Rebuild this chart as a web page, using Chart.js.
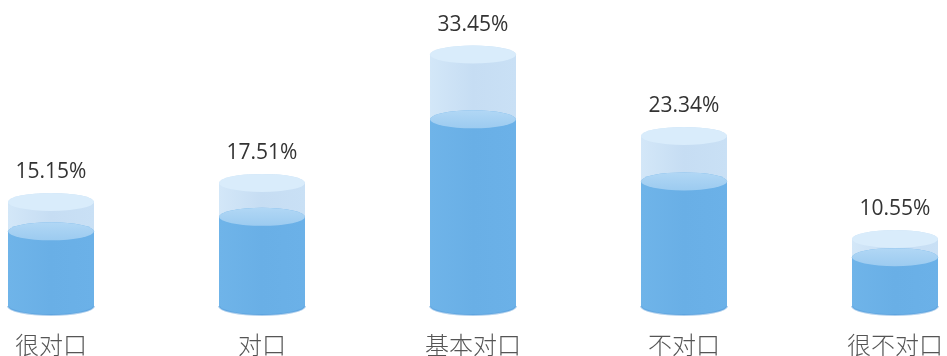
<!DOCTYPE html>
<html>
<head>
<meta charset="utf-8">
<script src="https://cdn.jsdelivr.net/npm/chart.js@4/dist/chart.umd.min.js"></script>
<style>
  html, body { margin: 0; padding: 0; background: #fff; }
  #wrap { width: 947px; height: 356px; }
</style>
</head>
<body>
<div id="wrap"><canvas id="c" width="947" height="356"></canvas></div>
<script>
const categories = ['很对口', '对口', '基本对口', '不对口', '很不对口'];
const percentValues = [15.15, 17.51, 33.45, 23.34, 10.55];
const fillValues = [11.5, 13.3, 25.4, 17.7, 8.3];
const valueLabels = ['15.15%', '17.51%', '33.45%', '23.34%', '10.55%'];

const RY = 9;

function cylinderPath(ctx, cx, rx, topY, baseY) {
  const t = topY + RY, b = baseY - RY;
  ctx.beginPath();
  ctx.moveTo(cx - rx, t);
  ctx.lineTo(cx - rx, b);
  ctx.ellipse(cx, b, rx, RY, 0, Math.PI, 0, true);
  ctx.lineTo(cx + rx, t);
  ctx.ellipse(cx, t, rx, RY, 0, 0, Math.PI, true);
  ctx.closePath();
}

const cylinderPlugin = {
  id: 'cylinders',
  afterDatasetsDraw(chart) {
    const ctx = chart.ctx;
    const outer = chart.getDatasetMeta(0).data;
    const inner = chart.getDatasetMeta(1).data;
    ctx.save();
    outer.forEach((el, i) => {
      const cx = el.x, rx = el.width / 2, base = el.base;
      cylinderPath(ctx, cx, rx, el.y, base);
      let g = ctx.createLinearGradient(cx - rx, 0, cx + rx, 0);
      g.addColorStop(0, '#d3e7f8');
      g.addColorStop(0.5, '#c6ddf3');
      g.addColorStop(1, '#c9e0f5');
      ctx.fillStyle = g;
      ctx.fill();
      ctx.beginPath();
      ctx.ellipse(cx, el.y + RY, rx, RY, 0, 0, Math.PI * 2);
      ctx.fillStyle = '#d9ecfb';
      ctx.fill();
      const ie = inner[i];
      cylinderPath(ctx, cx, rx, ie.y, base);
      g = ctx.createLinearGradient(cx - rx, 0, cx + rx, 0);
      g.addColorStop(0, '#6fb4e9');
      g.addColorStop(0.5, '#69afe6');
      g.addColorStop(1, '#6bb1e8');
      ctx.fillStyle = g;
      ctx.fill();
      ctx.beginPath();
      ctx.ellipse(cx, base - RY, rx, RY, 0, 0, Math.PI);
      ctx.lineWidth = 2;
      ctx.strokeStyle = 'rgba(80,150,215,0.45)';
      ctx.stroke();
      ctx.beginPath();
      ctx.ellipse(cx, ie.y + RY, rx, RY, 0, 0, Math.PI * 2);
      g = ctx.createLinearGradient(0, ie.y, 0, ie.y + 2 * RY);
      g.addColorStop(0, '#b1d7f5');
      g.addColorStop(1, '#9ccbf0');
      ctx.fillStyle = g;
      ctx.fill();
      ctx.fillStyle = '#333333';
      ctx.font = '21px "Open Sans"';
      ctx.textAlign = 'center';
      ctx.textBaseline = 'middle';
      ctx.fillText(valueLabels[i], cx, el.y - 21);
    });
    ctx.restore();
  }
};

new Chart(document.getElementById('c'), {
  type: 'bar',
  data: {
    labels: categories,
    datasets: [
      { data: percentValues, backgroundColor: 'rgba(0,0,0,0)', barThickness: 86, grouped: false },
      { data: fillValues, backgroundColor: 'rgba(0,0,0,0)', barThickness: 86, grouped: false }
    ]
  },
  options: {
    responsive: false,
    animation: false,
    events: [],
    layout: { padding: { left: 51, right: 52, top: 0, bottom: 0 } },
    plugins: { legend: { display: false }, tooltip: { enabled: false } },
    scales: {
      x: {
        offset: false,
        grid: { display: false, drawTicks: false },
        border: { display: false },
        ticks: {
          color: '#555555',
          font: { family: '"Noto Sans CJK SC"', size: 24, weight: '300', lineHeight: 1 },
          padding: 18,
          maxRotation: 0,
          autoSkip: false
        },
        afterFit(scale) { scale.height = 41; scale.paddingLeft = 0; scale.paddingRight = 0; }
      },
      y: {
        display: false,
        min: 0,
        max: 39.1
      }
    }
  },
  plugins: [cylinderPlugin]
});
</script>
</body>
</html>
